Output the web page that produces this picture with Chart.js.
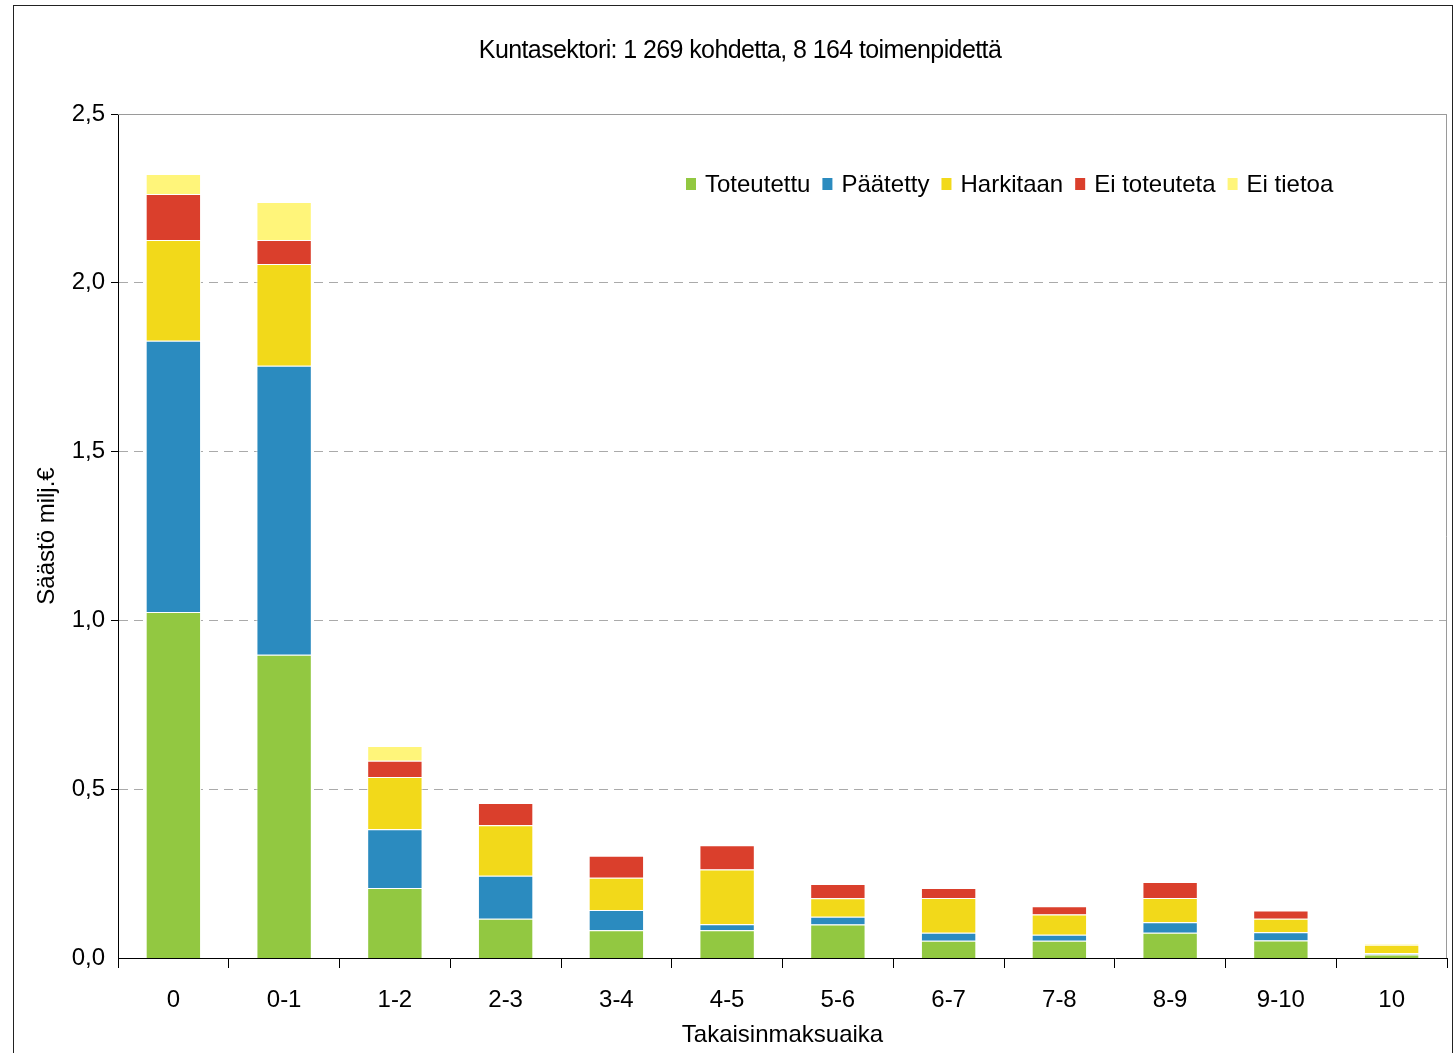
<!DOCTYPE html>
<html>
<head>
<meta charset="utf-8">
<script src="https://cdn.jsdelivr.net/npm/chart.js@4.4.0/dist/chart.umd.min.js"></script>
<style>
html,body{margin:0;padding:0;background:#fff}
#wrap{position:relative;width:1455px;height:1053px}
</style>
</head>
<body>
<div id="wrap"><canvas id="paybackChart" width="1455" height="1053"></canvas></div>
<script>
// DATA
const categories = ['0','0-1','1-2','2-3','3-4','4-5','5-6','6-7','7-8','8-9','9-10','10']
const toteutettu = [1.025,0.898,0.207,0.116,0.082,0.082,0.099,0.051,0.051,0.075,0.052,0.010]
const paatetty = [0.803,0.856,0.174,0.128,0.060,0.018,0.023,0.024,0.018,0.031,0.024,0.004]
const harkitaan = [0.299,0.302,0.155,0.149,0.096,0.162,0.055,0.103,0.060,0.072,0.040,0.025]
const eiToteuteta = [0.136,0.071,0.048,0.066,0.065,0.072,0.042,0.029,0.024,0.047,0.025,0]
const eiTietoa = [0.059,0.112,0.044,0,0,0,0,0,0,0,0,0.003]
const yTicks = [0,0.5,1.0,1.5,2.0,2.5]

const titleText = 'Kuntasektori: 1 269 kohdetta, 8 164 toimenpidettä'
const FONT = '"Liberation Sans", Arial, sans-serif'

function ds(label, data, color){
return {label:label, data:data, backgroundColor:color, borderColor:'#ffffff', borderWidth:1, borderSkipped:'start', barPercentage:0.5, categoryPercentage:1}
}

// title, frame, plot border and legend
const decor = {
id:'decor',
beforeDraw(chart){
let c = chart.ctx
c.save()
c.strokeStyle = '#222'
c.lineWidth = 1
c.strokeRect(13.5,5.5,1439,1100)
c.fillStyle = '#000'
c.font = '25px ' + FONT
c.letterSpacing = '-0.6px'
c.textAlign = 'center'
c.textBaseline = 'middle'
c.fillText(titleText, 740, 51)
c.restore()
},
afterDatasetsDraw(chart){
let c = chart.ctx
let a = chart.chartArea
c.save()
c.strokeStyle = '#9a9a9a'
c.lineWidth = 1
c.beginPath()
c.moveTo(a.left, a.top+0.5)
c.lineTo(a.right-0.5, a.top+0.5)
c.lineTo(a.right-0.5, a.bottom)
c.stroke()
// legend
c.font = '24px ' + FONT
c.textBaseline = 'middle'
c.textAlign = 'left'
let x = 686
let y = 184
chart.data.datasets.forEach(function(d){
c.fillStyle = d.backgroundColor
c.fillRect(x, y-6, 10, 12)
c.fillStyle = '#000'
c.fillText(d.label, x+19, y+1)
x += 19 + c.measureText(d.label).width + 12
})
c.restore()
}
}

new Chart(document.getElementById('paybackChart'), {
type:'bar',
data:{
labels:categories,
datasets:[
ds('Toteutettu', toteutettu, '#92c841'),
ds('Päätetty', paatetty, '#2b8bbf'),
ds('Harkitaan', harkitaan, '#f2d91a'),
ds('Ei toteuteta', eiToteuteta, '#da3f2c'),
ds('Ei tietoa', eiTietoa, '#fff57a')
]
},
options:{
responsive:false,
animation:false,
layout:{padding:{top:114,right:8,left:0,bottom:0}},
plugins:{
legend:{display:false},
title:{display:false},
tooltip:{enabled:false}
},
scales:{
x:{
stacked:true,
offset:true,
afterFit(s){ s.height = 95 },
grid:{drawOnChartArea:false, drawTicks:true, tickLength:10, tickColor:'#000', offset:true},
border:{color:'#000', width:1},
ticks:{color:'#000', font:{family:FONT, size:24}, padding:18, maxRotation:0, autoSkip:false},
title:{display:true, text:'Takaisinmaksuaika', color:'#000', font:{family:FONT, size:24}, padding:{top:3,bottom:3}}
},
y:{
stacked:true,
min:0,
max:2.5,
afterFit(s){ s.width = 118 },
afterBuildTicks(s){ s.ticks = yTicks.map(function(v){ return {value:v} }) },
grid:{color:'#aaaaaa', lineWidth:function(ctx){ return ctx.tick && ctx.tick.value===0 ? 0 : 1 }, tickLength:7, tickColor:'#000'},
border:{color:'#000', width:1, dash:[9,6]},
ticks:{color:'#000', font:{family:FONT, size:24}, padding:6, callback:function(v){ return Number(v).toFixed(1).replace('.',',') }},
title:{display:true, text:'Säästö milj.€', color:'#000', font:{family:FONT, size:24}, padding:{top:33,bottom:33}}
}
}
},
plugins:[decor]
})
</script>
</body>
</html>
